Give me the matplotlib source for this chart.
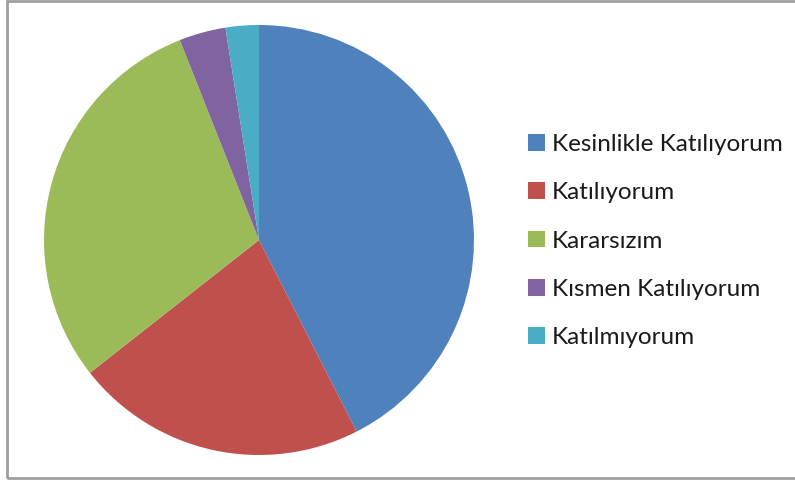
import matplotlib.pyplot as plt
from matplotlib.patches import Rectangle, Patch

labels = ['Kesinlikle Katılıyorum', 'Katılıyorum', 'Kararsızım', 'Kısmen Katılıyorum', 'Katılmıyorum']
values = [42.5, 21.9, 29.6, 3.5, 2.5]
colors = ['#4F81BD', '#C0504D', '#9BBB59', '#8064A2', '#4BACC6']

plt.rcParams['font.family'] = ['Lato', 'DejaVu Sans']

fig = plt.figure(figsize=(7.95, 4.84), dpi=100)

# pie area
ax = fig.add_axes([44 / 795, 29 / 484, 430 / 795, 430 / 484])
ax.pie(values, colors=colors, startangle=90, counterclock=False,
       wedgeprops={'linewidth': 0})
ax.set_xlim(-1, 1)
ax.set_ylim(-1, 1)
ax.set_aspect('equal')

# outer frame of the chart
fig.patches.append(Rectangle((7 / 795, 6 / 484), 1.0, 477 / 484, transform=fig.transFigure,
                             fill=False, edgecolor='#A0A0A0', linewidth=2))

handles = [Patch(facecolor=c, edgecolor='none') for c in colors]
fig.legend(handles, labels, loc='center left', bbox_to_anchor=(528 / 795, 243 / 484),
           frameon=False, fontsize=17.5, handlelength=0.68, handleheight=0.68,
           handletextpad=0.3, labelspacing=1.12, borderpad=0, borderaxespad=0,
           labelcolor='#1a1a1a')

fig.savefig('out.png', dpi=100)
